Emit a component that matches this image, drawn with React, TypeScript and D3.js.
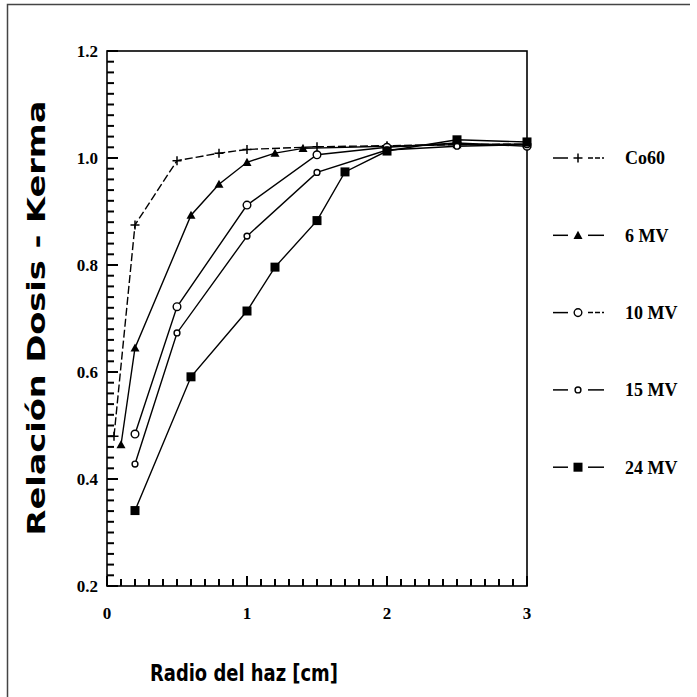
import React from 'react';
import * as d3 from 'd3';

// beam radius [cm] and dose/kerma ratio for each beam
const co60X = [0.05, 0.2, 0.5, 0.8, 1.0, 1.5, 2.0, 2.5, 3.0];
const co60Y = [0.48, 0.875, 0.995, 1.009, 1.016, 1.021, 1.023, 1.025, 1.026];
const mv6X = [0.1, 0.2, 0.6, 0.8, 1.0, 1.2, 1.4, 2.0, 2.5, 3.0];
const mv6Y = [0.464, 0.645, 0.893, 0.951, 0.992, 1.009, 1.018, 1.022, 1.025, 1.026];
const mv10X = [0.2, 0.5, 1.0, 1.5, 2.0, 2.5, 3.0];
const mv10Y = [0.484, 0.722, 0.912, 1.006, 1.02, 1.028, 1.022];
const mv15X = [0.2, 0.5, 1.0, 1.5, 2.0, 2.5, 3.0];
const mv15Y = [0.428, 0.673, 0.854, 0.973, 1.015, 1.022, 1.025];
const mv24X = [0.2, 0.6, 1.0, 1.2, 1.5, 1.7, 2.0, 2.5, 3.0];
const mv24Y = [0.341, 0.591, 0.714, 0.796, 0.883, 0.974, 1.013, 1.034, 1.03];

const seriesNames = ['Co60', '6 MV', '10 MV', '15 MV', '24 MV'];
const seriesMarkers = ['plus', 'triangle', 'circle', 'smallCircle', 'square'];

const xTickLabels = [0, 1, 2, 3];
const yTickLabels = [0.2, 0.4, 0.6, 0.8, 1.0, 1.2];
const xMinorTicks = d3.range(0, 31).map((i) => i / 10);
const yMinorTicks = d3.range(10, 61).map((i) => i / 50);

const App = () => {
  const width = 697;
  const height = 697;
  const plot = { left: 107, right: 527, top: 51, bottom: 586 };

  const x = d3.scaleLinear().domain([0, 3]).range([plot.left, plot.right]);
  const y = d3.scaleLinear().domain([0.2, 1.2]).range([plot.bottom, plot.top]);
  const line = d3.line<[number, number]>().x((d) => x(d[0])).y((d) => y(d[1]));

  const series = [
    { xs: co60X, ys: co60Y },
    { xs: mv6X, ys: mv6Y },
    { xs: mv10X, ys: mv10Y },
    { xs: mv15X, ys: mv15Y },
    { xs: mv24X, ys: mv24Y },
  ].map((s, i) => ({
    name: seriesNames[i],
    marker: seriesMarkers[i],
    points: s.xs.map((v, j) => [v, s.ys[j]] as [number, number]),
  }));

  const marker = (kind: string, cx: number, cy: number, s: number, key: string) => {
    if (kind === 'plus')
      return <path key={key} d={`M${cx - s},${cy} H${cx + s} M${cx},${cy - s} V${cy + s}`} stroke="#000" strokeWidth={1.5} />;
    if (kind === 'triangle')
      return <path key={key} d={`M${cx},${cy - s} L${cx + s},${cy + s * 0.8} L${cx - s},${cy + s * 0.8} Z`} fill="#000" />;
    if (kind === 'circle')
      return <circle key={key} cx={cx} cy={cy} r={s * 0.85} fill="#fff" stroke="#000" strokeWidth={1.4} />;
    if (kind === 'smallCircle')
      return <circle key={key} cx={cx} cy={cy} r={s * 0.65} fill="#fff" stroke="#000" strokeWidth={1.4} />;
    return <rect key={key} x={cx - s} y={cy - s} width={s * 2} height={s * 2} fill="#000" />;
  };

  const serif = { fontFamily: '"Liberation Serif", serif', fontWeight: 'bold' as const };

  return (
    <svg width={width} height={height} style={{ position: 'absolute', left: 0, top: 0, display: 'block' }}>
      <rect width={width} height={height} fill="#fff" />
      {/* page frame, top and left edge only */}
      <path d={`M7.5,${height} V4.5 H690`} fill="none" stroke="#444" strokeWidth={1.5} />

      <rect x={plot.left} y={plot.top} width={plot.right - plot.left} height={plot.bottom - plot.top}
        fill="none" stroke="#000" strokeWidth={1.6} />

      {xTickLabels.map((d) => (
        <text key={`xl${d}`} x={x(d)} y={619} textAnchor="middle" fontSize={17} style={serif}>{d}</text>
      ))}
      {yTickLabels.map((d) => (
        <text key={`yl${d}`} x={98} y={y(d)} dy="0.35em" textAnchor="end" fontSize={17} style={serif}>{d.toFixed(1)}</text>
      ))}

      <text x={244} y={681} textAnchor="middle" textLength={188} lengthAdjust="spacingAndGlyphs"
        fontSize={23} style={{ fontFamily: '"DejaVu Sans", sans-serif', fontWeight: 'bold' }}>
        Radio del haz [cm]
      </text>
      <text transform="translate(45,318) rotate(-90)" textAnchor="middle" textLength={435} lengthAdjust="spacingAndGlyphs"
        fontSize={24} style={{ fontFamily: '"DejaVu Sans", sans-serif', fontWeight: 'bold' }}>
        Relación Dosis - Kerma
      </text>

      {series.map((s, si) => (
        <g key={s.name}>
          <path d={line(s.points) || ''} fill="none" stroke="#000" strokeWidth={1.4}
            strokeDasharray={s.marker === 'plus' ? '8,3' : undefined} />
          {s.points.map((p, j) => marker(s.marker, x(p[0]), y(p[1]), 4.5, `m${si}-${j}`))}
        </g>
      ))}

      {/* legend */}
      {series.map((s, i) => {
        const ly = 158 + i * 77.3;
        return (
          <g key={`lg${i}`}>
            <line x1={553} x2={568} y1={ly} y2={ly} stroke="#000" strokeWidth={1.5} />
            <line x1={588} x2={604} y1={ly} y2={ly} stroke="#000" strokeWidth={1.5}
              strokeDasharray={s.marker === 'plus' || s.marker === 'circle' ? '5,2' : undefined} />
            {marker(s.marker, 578, ly, 4.5, 'mk')}
            <text x={625} y={ly} dy="0.35em" fontSize={18} style={serif}>{s.name}</text>
          </g>
        );
      })}

      {/* inward ticks, drawn last so nothing covers them */}
      <g stroke="#000" strokeWidth={2}>
        {xMinorTicks.map((t, i) => (
          <line key={`xt${i}`} x1={x(t)} x2={x(t)} y1={plot.bottom} y2={plot.bottom - (i % 10 === 0 ? 10 : 7)} />
        ))}
        {yMinorTicks.map((t, i) => (
          <line key={`yt${i}`} x1={plot.left} x2={plot.left + (i % 10 === 0 ? 11 : 7)} y1={y(t)} y2={y(t)} />
        ))}
      </g>
    </svg>
  );
};

export default App;
